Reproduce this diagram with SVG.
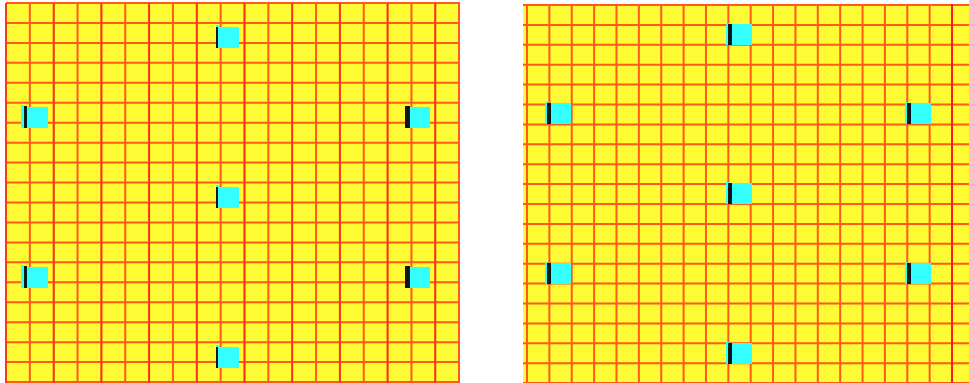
<svg xmlns="http://www.w3.org/2000/svg" width="969" height="383" viewBox="0 0 969 383">
<style>
.bg{fill:#fdfb33}
.g{stroke:#ff5a1e;stroke-width:2;fill:none}
.r{stroke:#ff2a1a;stroke-width:1.5;fill:none}
.c{fill:#33ffff}
.k{fill:#0a1a1a}
</style>
<defs>
<g id="sqC">
<rect class="c" x="0" y="-1" width="3" height="3"/>
<rect class="k" x="0" y="1" width="3" height="21"/>
<rect class="c" x="2" y="1" width="21" height="21"/>
</g>
<g id="sqL">
<rect class="c" x="-3" y="-2" width="3" height="23"/>
<rect class="k" x="0" y="-1" width="3" height="22"/>
<rect class="c" x="3" y="0" width="21" height="21"/>
</g>
<g id="sqR">
<rect class="k" x="0" y="0" width="5" height="22"/>
<rect class="c" x="5" y="1" width="20" height="21"/>
</g>
<g id="sqB">
<rect class="c" x="-2" y="-1" width="3" height="22"/>
<rect class="k" x="0" y="0" width="4" height="21"/>
<rect class="c" x="4" y="0" width="20" height="21"/>
</g>
</defs>
<g id="panel-left">
<rect class="bg" x="6" y="3" width="454" height="380"/>
<g class="g">
<path d="M6,3V383M29.85,3V383M53.7,3V383M77.55,3V383M101.4,3V383M125.25,3V383M149.1,3V383M172.95,3V383M196.8,3V383M220.65,3V383M244.5,3V383M268.35,3V383M292.2,3V383M316.05,3V383M339.9,3V383M363.75,3V383M387.6,3V383M411.45,3V383M435.3,3V383M459,3V383"/>
<path d="M6,3H460M6,22.95H460M6,42.9H460M6,62.85H460M6,82.8H460M6,102.75H460M6,122.7H460M6,142.65H460M6,162.6H460M6,182.55H460M6,202.5H460M6,222.45H460M6,242.4H460M6,262.35H460M6,282.3H460M6,302.25H460M6,322.2H460M6,342.15H460M6,362.1H460M6,382H460"/>
</g>
<g class="r">
<path d="M6,3V383M53.7,3V383M101.4,3V383M149.1,3V383M196.8,3V383M244.5,3V383M292.2,3V383M339.9,3V383M387.6,3V383M435.3,3V383"/>
</g>
<use href="#sqC" x="216" y="26"/>
<use href="#sqL" x="24" y="107"/>
<use href="#sqR" x="405" y="106"/>
<use href="#sqC" x="216" y="186"/>
<use href="#sqL" x="24" y="267"/>
<use href="#sqR" x="405" y="266"/>
<use href="#sqC" x="216" y="346"/>
</g>
<g id="panel-right">
<rect class="bg" x="523" y="4" width="446" height="379"/>
<g class="g">
<path d="M527,4V383M549.37,4V383M571.74,4V383M594.11,4V383M616.48,4V383M638.85,4V383M661.22,4V383M683.59,4V383M705.96,4V383M728.33,4V383M750.7,4V383M773.07,4V383M795.44,4V383M817.81,4V383M840.18,4V383M862.55,4V383M884.92,4V383M907.29,4V383M929.66,4V383"/>
<path d="M523,5H969M523,24.9H969M523,44.8H969M523,64.7H969M523,84.6H969M523,104.5H969M523,124.4H969M523,144.3H969M523,164.2H969M523,184.1H969M523,204H969M523,223.9H969M523,243.8H969M523,263.7H969M523,283.6H969M523,303.5H969M523,323.4H969M523,343.3H969M523,363.2H969M523,383H969"/>
</g>
<path d="M952,4V383" stroke="#ff1a1a" stroke-width="2"/>
<use href="#sqB" x="728" y="24"/>
<use href="#sqB" x="547" y="103"/>
<use href="#sqB" x="907" y="103"/>
<use href="#sqB" x="728" y="183"/>
<use href="#sqB" x="547" y="263"/>
<use href="#sqB" x="907" y="263"/>
<use href="#sqB" x="728" y="343"/>
</g>
</svg>
